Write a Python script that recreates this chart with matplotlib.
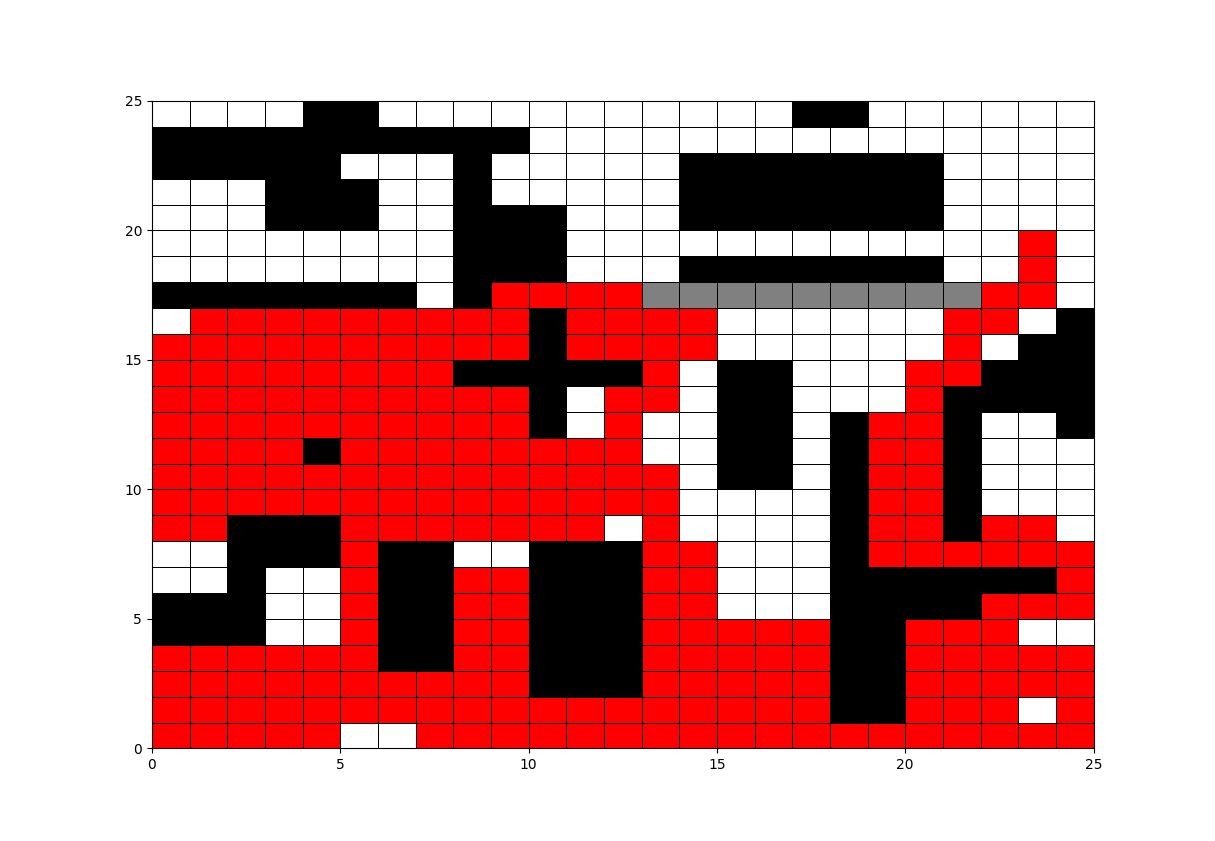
import numpy as np
import matplotlib
matplotlib.use("Agg")
import matplotlib.pyplot as plt
from matplotlib.colors import ListedColormap, BoundaryNorm

# cell states: 0 = free (white), 1 = wall (black), 2 = visited (red), 3 = path (gray)
# rows listed from top (y = 24) down to bottom (y = 0)
GRID_ROWS = [
    [0, 0, 0, 0, 1, 1, 0, 0, 0, 0, 0, 0, 0, 0, 0, 0, 0, 1, 1, 0, 0, 0, 0, 0, 0],
    [1, 1, 1, 1, 1, 1, 1, 1, 1, 1, 0, 0, 0, 0, 0, 0, 0, 0, 0, 0, 0, 0, 0, 0, 0],
    [1, 1, 1, 1, 1, 0, 0, 0, 1, 0, 0, 0, 0, 0, 1, 1, 1, 1, 1, 1, 1, 0, 0, 0, 0],
    [0, 0, 0, 1, 1, 1, 0, 0, 1, 0, 0, 0, 0, 0, 1, 1, 1, 1, 1, 1, 1, 0, 0, 0, 0],
    [0, 0, 0, 1, 1, 1, 0, 0, 1, 1, 1, 0, 0, 0, 1, 1, 1, 1, 1, 1, 1, 0, 0, 0, 0],
    [0, 0, 0, 0, 0, 0, 0, 0, 1, 1, 1, 0, 0, 0, 0, 0, 0, 0, 0, 0, 0, 0, 0, 2, 0],
    [0, 0, 0, 0, 0, 0, 0, 0, 1, 1, 1, 0, 0, 0, 1, 1, 1, 1, 1, 1, 1, 0, 0, 2, 0],
    [1, 1, 1, 1, 1, 1, 1, 0, 1, 2, 2, 2, 2, 3, 3, 3, 3, 3, 3, 3, 3, 3, 2, 2, 0],
    [0, 2, 2, 2, 2, 2, 2, 2, 2, 2, 1, 2, 2, 2, 2, 0, 0, 0, 0, 0, 0, 2, 2, 0, 1],
    [2, 2, 2, 2, 2, 2, 2, 2, 2, 2, 1, 2, 2, 2, 2, 0, 0, 0, 0, 0, 0, 2, 0, 1, 1],
    [2, 2, 2, 2, 2, 2, 2, 2, 1, 1, 1, 1, 1, 2, 0, 1, 1, 0, 0, 0, 2, 2, 1, 1, 1],
    [2, 2, 2, 2, 2, 2, 2, 2, 2, 2, 1, 0, 2, 2, 0, 1, 1, 0, 0, 0, 2, 1, 1, 1, 1],
    [2, 2, 2, 2, 2, 2, 2, 2, 2, 2, 1, 0, 2, 0, 0, 1, 1, 0, 1, 2, 2, 1, 0, 0, 1],
    [2, 2, 2, 2, 1, 2, 2, 2, 2, 2, 2, 2, 2, 0, 0, 1, 1, 0, 1, 2, 2, 1, 0, 0, 0],
    [2, 2, 2, 2, 2, 2, 2, 2, 2, 2, 2, 2, 2, 2, 0, 1, 1, 0, 1, 2, 2, 1, 0, 0, 0],
    [2, 2, 2, 2, 2, 2, 2, 2, 2, 2, 2, 2, 2, 2, 0, 0, 0, 0, 1, 2, 2, 1, 0, 0, 0],
    [2, 2, 1, 1, 1, 2, 2, 2, 2, 2, 2, 2, 0, 2, 0, 0, 0, 0, 1, 2, 2, 1, 2, 2, 0],
    [0, 0, 1, 1, 1, 2, 1, 1, 0, 0, 1, 1, 1, 2, 2, 0, 0, 0, 1, 2, 2, 2, 2, 2, 2],
    [0, 0, 1, 0, 0, 2, 1, 1, 2, 2, 1, 1, 1, 2, 2, 0, 0, 0, 1, 1, 1, 1, 1, 1, 2],
    [1, 1, 1, 0, 0, 2, 1, 1, 2, 2, 1, 1, 1, 2, 2, 0, 0, 0, 1, 1, 1, 1, 2, 2, 2],
    [1, 1, 1, 0, 0, 2, 1, 1, 2, 2, 1, 1, 1, 2, 2, 2, 2, 2, 1, 1, 2, 2, 2, 0, 0],
    [2, 2, 2, 2, 2, 2, 1, 1, 2, 2, 1, 1, 1, 2, 2, 2, 2, 2, 1, 1, 2, 2, 2, 2, 2],
    [2, 2, 2, 2, 2, 2, 2, 2, 2, 2, 1, 1, 1, 2, 2, 2, 2, 2, 1, 1, 2, 2, 2, 2, 2],
    [2, 2, 2, 2, 2, 2, 2, 2, 2, 2, 2, 2, 2, 2, 2, 2, 2, 2, 1, 1, 2, 2, 2, 0, 2],
    [2, 2, 2, 2, 2, 0, 0, 2, 2, 2, 2, 2, 2, 2, 2, 2, 2, 2, 2, 2, 2, 2, 2, 2, 2],
]

STATE_COLORS = ["white", "black", "red", "gray"]

grid = np.flipud(np.array(GRID_ROWS))
n_rows, n_cols = grid.shape

cmap = ListedColormap(STATE_COLORS)
norm = BoundaryNorm([-0.5, 0.5, 1.5, 2.5, 3.5], cmap.N)

fig, ax = plt.subplots(figsize=(12.15, 8.41), dpi=100)
ax.pcolormesh(np.arange(n_cols + 1), np.arange(n_rows + 1), grid,
              cmap=cmap, norm=norm, edgecolors="black", linewidth=0.5)
ax.set_xlim(0, n_cols)
ax.set_ylim(0, n_rows)

fig.savefig("out.png", dpi=100)
